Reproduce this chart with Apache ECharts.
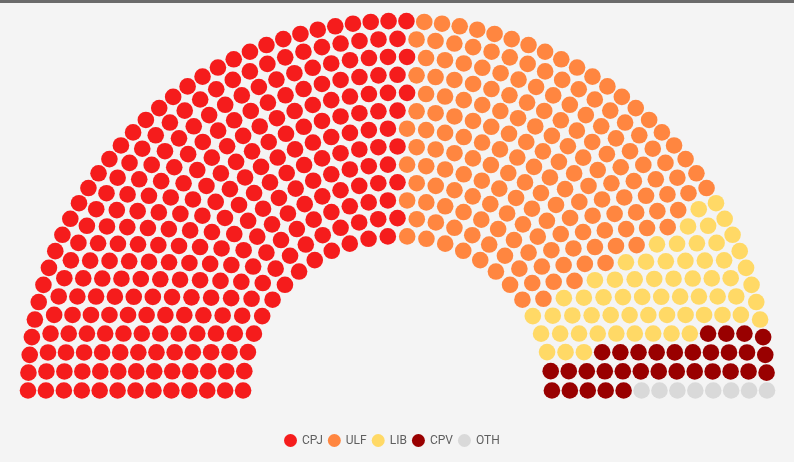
<!DOCTYPE html>
<html><head><meta charset="utf-8">
<script src="https://cdn.jsdelivr.net/npm/echarts@6/dist/echarts.min.js"></script>
<style>html,body{margin:0;padding:0;background:#f4f4f4}#c{width:794px;height:462px}</style>
</head><body><div id="c"></div>
<script>
// ---- data ----
const parties = ['CPJ', 'ULF', 'LIB', 'CPV', 'OTH'];
const seats = [294, 179, 63, 32, 8];
// ---- style ----
const colors = ['#f51c1c', '#ff8640', '#ffd966', '#990000', '#d9d9d9'];

// ---- layout: 13 concentric arcs, inner arcs 23+3i seats, outer arc takes the rest ----
const total = seats.reduce((a, b) => a + b, 0);
const ringCount = 13;
const ringSeats = [];
for (let i = 1; i < ringCount; i++) ringSeats.push(23 + 3 * i);
ringSeats.push(total - ringSeats.reduce((a, b) => a + b, 0));

const slots = [];
ringSeats.forEach((n, idx) => {
  const c = n - 1;
  for (let k = 0; k <= c; k++) slots.push({ ring: idx + 1, k, c });
});
// order seats from left (180deg) to right (0deg); ties -> inner arc first
slots.sort((a, b) => {
  const d = b.k * a.c - a.k * b.c;
  if (d !== 0) return d;
  return a.ring - b.ring;
});

let pos = 0;
const series = parties.map((p, pi) => {
  const data = [];
  for (let j = 0; j < seats[pi]; j++, pos++) {
    const s = slots[pos];
    data.push([s.ring, s.k / s.c * 180]);
  }
  return {
    name: p, type: 'scatter', coordinateSystem: 'polar',
    symbol: 'circle', symbolSize: 16.6,
    itemStyle: { color: colors[pi], opacity: 1 },
    emphasis: { disabled: true },
    data
  };
});

const chart = echarts.init(document.getElementById('c'), null, { renderer: 'canvas' });
chart.setOption({
  backgroundColor: '#f4f4f4',
  animation: false,
  polar: { center: [397.5, 390.5], radius: 369.5 },
  angleAxis: { type: 'value', min: 0, max: 360, startAngle: 0, clockwise: false, show: false },
  radiusAxis: { type: 'value', min: -7.616, max: 13, show: false },
  legend: {
    data: parties, left: 284, top: 434, padding: 0, itemGap: 5,
    icon: 'circle', itemWidth: 13, itemHeight: 13,
    textStyle: { color: '#5f5f5f', fontSize: 12, fontFamily: 'Roboto' },
    selectedMode: false
  },
  graphic: [{ type: 'rect', left: 0, top: 0, shape: { width: 794, height: 3 }, style: { fill: '#6b6b6b' } }],
  series
});
</script></body></html>
